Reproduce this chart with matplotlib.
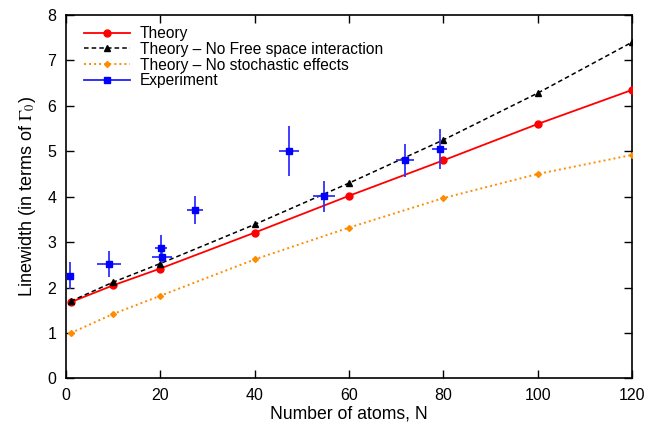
import matplotlib
matplotlib.use("Agg")
import matplotlib.pyplot as plt
from matplotlib.ticker import MultipleLocator
from matplotlib.lines import Line2D

plt.rcParams['font.family'] = ['Liberation Sans', 'DejaVu Sans']
plt.rcParams['mathtext.fontset'] = 'stix'

N_theory = [1, 10, 20, 40, 60, 80, 100, 120]
theory = [1.68, 2.05, 2.42, 3.21, 4.02, 4.80, 5.60, 6.35]
theory_nofree = [1.70, 2.12, 2.53, 3.39, 4.30, 5.25, 6.28, 7.40]
theory_nostoch = [1.00, 1.42, 1.82, 2.62, 3.32, 3.97, 4.50, 4.92]

N_exp = [0.9, 9.1, 20.1, 20.4, 27.3, 47.2, 54.7, 71.9, 79.2]
lw_exp = [2.26, 2.52, 2.87, 2.67, 3.71, 5.01, 4.01, 4.80, 5.05]
xerr_exp = [0.5, 2.5, 1.3, 2.1, 1.7, 2.1, 2.3, 1.9, 1.5]
yerr_exp = [0.30, 0.28, 0.28, 0.12, 0.31, 0.55, 0.34, 0.37, 0.44]

labels = ['Theory', 'Theory – No Free space interaction',
          'Theory – No stochastic effects', 'Experiment']

fig = plt.figure(figsize=(6.64, 4.28), dpi=100)
ax = fig.add_axes([0.0994, 0.1157, 0.8524, 0.8493])

ax.plot(N_theory, theory, color='#ff0000', lw=1.3, marker='o', ms=5, zorder=3)
ax.plot(N_theory, theory_nofree, color='black', lw=1.1, ls=(0, (3, 2)), marker='^', ms=4, zorder=3)
ax.plot(N_theory, theory_nostoch, color='#ff8c00', lw=1.4, ls=(0, (1, 1.6)), marker='D', ms=3, zorder=3)
ax.errorbar(N_exp, lw_exp, xerr=xerr_exp, yerr=yerr_exp, fmt='s', color='#0000ff', ecolor='#3030ff',
            ms=4.5, elinewidth=1.3, capsize=0, zorder=4)

handles = [
    Line2D([], [], color='#ff0000', lw=1.3, marker='o', ms=5),
    Line2D([], [], color='black', lw=1.1, ls=(0, (3, 2)), marker='^', ms=4),
    Line2D([], [], color='#ff8c00', lw=1.4, ls=(0, (1, 1.6)), marker='D', ms=3),
    Line2D([], [], color='#2020ff', lw=1.3, marker='s', ms=4.5, mfc='#0000ff', mec='#0000ff'),
]

ax.set_xlim(0, 120)
ax.set_ylim(0, 8)
ax.xaxis.set_major_locator(MultipleLocator(20))
ax.yaxis.set_major_locator(MultipleLocator(1))
ax.tick_params(direction='in', top=True, right=True, length=6, width=1, labelsize=11.5, pad=7)
for s in ax.spines.values():
    s.set_linewidth(1.2)
ax.set_xlabel('Number of atoms, N', fontsize=12.7, labelpad=2)
ax.set_ylabel('Linewidth (in terms of $\\Gamma_0$)', fontsize=13, labelpad=7)

ax.legend(handles, labels, loc='upper left', bbox_to_anchor=(0.027, 0.978), frameon=False,
          fontsize=11.2, handlelength=2.9, handletextpad=0.65, labelspacing=0.05,
          borderaxespad=0.0, borderpad=0.2)

fig.savefig('out.png', dpi=100)
